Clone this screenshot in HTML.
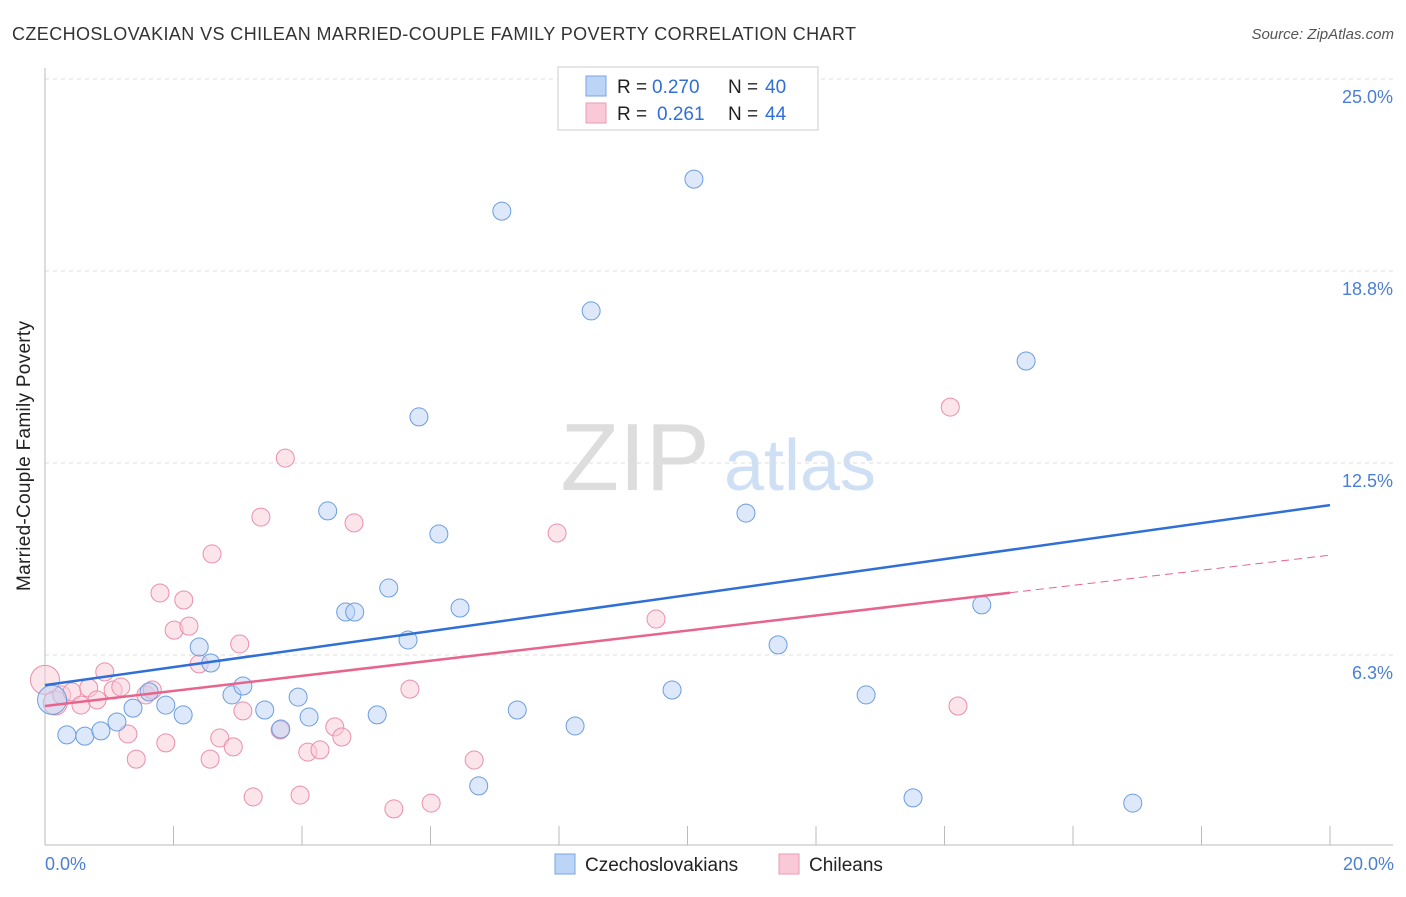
<!DOCTYPE html>
<html><head><meta charset="utf-8"><style>
body{margin:0;background:#fff;font-family:"Liberation Sans",sans-serif;}
svg text{font-family:"Liberation Sans",sans-serif;}
</style></head><body>
<svg id="chart" width="1406" height="892">
<text x="12" y="40" font-size="18" fill="#333" textLength="844">CZECHOSLOVAKIAN VS CHILEAN MARRIED-COUPLE FAMILY POVERTY CORRELATION CHART</text>
<text x="1394" y="39" font-size="15" fill="#555" font-style="italic" text-anchor="end">Source: ZipAtlas.com</text>
<g><text x="635" y="490" font-size="96" fill="#ddd" font-family="Liberation Serif,serif" text-anchor="middle">ZIP</text><text x="800" y="490" font-size="72" fill="#cfe0f5" text-anchor="middle">atlas</text></g>
<g id="grid"></g>
<line x1="45" y1="68" x2="45" y2="845" stroke="#bbb"/>
<line x1="45" y1="845" x2="1393" y2="845" stroke="#bbb"/>
<g id="xticks"></g>
<text x="30" y="456" font-size="19" fill="#222" text-anchor="middle" textLength="270" transform="rotate(-90 30 456)">Married-Couple Family Poverty</text>
<text x="45" y="870" font-size="18" fill="#4a7fd4">0.0%</text>
<text x="1394" y="870" font-size="18" fill="#4a7fd4" text-anchor="end">20.0%</text>
<g id="points"></g>
<g id="lines"></g>
<g>
<rect x="558" y="67" width="260" height="63" fill="#fff" stroke="#ccc"/>
<rect x="586" y="76" width="20" height="20" fill="#bcd4f5" stroke="#7aa6e6"/>
<rect x="586" y="103" width="20" height="20" fill="#f9c9d7" stroke="#ef9ab3"/>
<text y="93" font-size="19" fill="#222"><tspan x="617">R =</tspan><tspan x="652" fill="#2f6fd6">0.270</tspan><tspan x="728">N =</tspan><tspan x="765" fill="#2f6fd6">40</tspan></text>
<text y="120" font-size="19" fill="#222"><tspan x="617">R =</tspan><tspan x="657" fill="#2f6fd6">0.261</tspan><tspan x="728">N =</tspan><tspan x="765" fill="#2f6fd6">44</tspan></text>
</g>
<g>
<rect x="555" y="854" width="20" height="20" fill="#bcd4f5" stroke="#7aa6e6"/>
<text x="585" y="871" font-size="19" fill="#222">Czechoslovakians</text>
<rect x="779" y="854" width="20" height="20" fill="#f9c9d7" stroke="#ef9ab3"/>
<text x="809" y="871" font-size="19" fill="#222">Chileans</text>
</g>
</svg>
<script>
const yTicks=[6.25,12.5,18.75,25];
const yTickLabels=["6.3%","12.5%","18.8%","25.0%"];
const xTickVals=[2,4,6,8,10,12,14,16,18,20];
const czX=[0.11,0.34,0.62,0.87,1.12,1.37,1.62,1.88,2.15,2.40,2.58,2.91,3.08,3.42,3.67,3.94,4.11,4.40,4.68,4.82,5.17,5.35,5.65,5.82,6.13,6.46,6.75,7.11,7.35,8.25,8.50,9.76,10.10,10.91,11.41,12.78,13.51,14.58,15.27,16.93];
const czY=[4.79,3.65,3.61,3.78,4.07,4.52,5.05,4.62,4.30,6.51,5.99,4.95,5.24,4.46,3.84,4.88,4.23,10.94,7.65,7.65,4.30,8.43,6.74,14.00,10.19,7.78,1.99,20.70,4.46,3.94,17.45,5.11,21.74,10.87,6.58,4.95,1.60,7.88,15.82,1.43];
const czW=[2.6,1,1,1,1,1,1,1,1,1,1,1,1,1,1,1,1,1,1,1,1,1,1,1,1,1,1,1,1,1,1,1,1,1,1,1,1,1,1,1];
const clX=[0,0.16,0.26,0.42,0.56,0.68,0.81,0.93,1.06,1.18,1.29,1.42,1.57,1.67,1.79,1.88,2.01,2.16,2.24,2.40,2.57,2.60,2.72,2.93,3.03,3.08,3.24,3.36,3.66,3.74,3.97,4.09,4.28,4.51,4.62,4.81,5.43,5.68,6.01,6.68,7.97,9.51,14.09,14.21];
const clY=[5.44,4.69,4.95,5.05,4.62,5.18,4.79,5.70,5.11,5.21,3.68,2.86,4.95,5.11,8.27,3.39,7.06,8.04,7.19,5.96,2.86,9.54,3.55,3.26,6.61,4.43,1.63,10.74,3.81,12.66,1.69,3.09,3.16,3.91,3.58,10.55,1.24,5.14,1.43,2.83,10.22,7.42,14.32,4.59];
const clW=[2.6,1.8,1,1,1,1,1,1,1,1,1,1,1,1,1,1,1,1,1,1,1,1,1,1,1,1,1,1,1,1,1,1,1,1,1,1,1,1,1,1,1,1,1,1];
const czLine=[5.27,11.13];
const clLine=[4.59,9.5];
const clSolidEnd=15.02;
const NS="http://www.w3.org/2000/svg";
const xs=v=>45+v/20*1285;
const ys=v=>847-v/6.25*192;
function mk(tag,attrs,parent){const e=document.createElementNS(NS,tag);for(const k in attrs)e.setAttribute(k,attrs[k]);parent.appendChild(e);return e;}
const grid=document.getElementById('grid');
yTicks.forEach((t,i)=>{
 const l=mk('line',{x1:45,x2:1393,y1:ys(t),y2:ys(t),stroke:'#ddd','stroke-dasharray':'4,4'},grid);
 
 
 const tx=mk('text',{x:1393,y:ys(t)+24,'font-size':18,fill:'#4a7fd4','text-anchor':'end'},grid);
 tx.textContent=yTickLabels[i];
 
 
});
const xt=document.getElementById('xticks');
xTickVals.forEach(v=>{
 const l=mk('line',{x1:xs(v),x2:xs(v),y1:826,y2:845,stroke:'#bbb'},xt);
 
 
});
const pts=document.getElementById('points');
function series(X,Y,W,fill,stroke,name){
 X.forEach((x,i)=>{
  const c=mk('circle',{cx:xs(x),cy:ys(Y[i]),r:9*Math.sqrt(W[i]),fill:fill,'fill-opacity':0.5,stroke:stroke,'stroke-width':1},pts);
  
  
 });
}
series(clX,clY,clW,'#f9c9d7','#ea8fab','chilean-point');
series(czX,czY,czW,'#bcd4f5','#6c9de0','czech-point');
const lg=document.getElementById('lines');
const bl=mk('line',{x1:xs(0),y1:ys(czLine[0]),x2:xs(20),y2:ys(czLine[1]),stroke:'#2f6fd6','stroke-width':2.5},lg);


const pe=clLine[0]+(clLine[1]-clLine[0])*clSolidEnd/20;
const pl=mk('line',{x1:xs(0),y1:ys(clLine[0]),x2:xs(clSolidEnd),y2:ys(pe),stroke:'#e8648d','stroke-width':2.5},lg);


const pd=mk('line',{x1:xs(clSolidEnd),y1:ys(pe),x2:xs(20),y2:ys(clLine[1]),stroke:'#e8648d','stroke-width':1,'stroke-dasharray':'8,5'},lg);


</script>
</body></html>
